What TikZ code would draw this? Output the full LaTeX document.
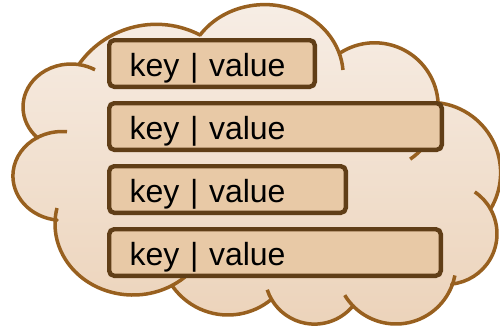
\documentclass[tikz,border=0pt]{standalone}
\usepackage{fontspec}
\setmainfont{Liberation Sans}
\usetikzlibrary{calc,positioning}
\definecolor{cloudline}{HTML}{98601F}
\definecolor{cloudtop}{HTML}{F7EEE6}
\definecolor{cloudbottom}{HTML}{ECD3BA}
\definecolor{entryfill}{HTML}{E8C9A6}
\definecolor{entryline}{HTML}{603E17}
% one puff of the cloud: centre x, centre y, x radius, y radius, start, end
\newcommand{\puff}[6]{-- ($(#1,#2)+(#5:#3 and #4)$) arc[start angle=#5, end angle=#6, x radius=#3, y radius=#4]}
\newcommand{\puffstub}[6]{\draw[cloud outline] ($(#1,#2)+(#5:#3 and #4)$) arc[start angle=#5, end angle=#6, x radius=#3, y radius=#4];}
\tikzset{
  cloud outline/.style={
    draw=cloudline,
    line width=3.5pt,
    line join=round,
  },
  cloud body/.style={
    cloud outline,
    top color=cloudtop,
    bottom color=cloudbottom,
  },
  entry/.style={
    rounded corners=5pt,
    draw=entryline,
    fill=entryfill,
    line width=4.4pt,
    minimum height=46.6pt,
    text height=25pt,
    text depth=0pt,
    inner xsep=20.4pt,
    inner ysep=4pt,
    align=left,
    text width=#1,
    font=\fontsize{32}{38}\selectfont,
  },
}

\begin{document}
\begin{tikzpicture}[x=1pt, y=-1pt]
  \useasboundingbox (0,0) rectangle (500,327);

  \draw[cloud body] (79.9,63)
    \puff{156.3}{119.1}{94.8}{94.8}{216.3}{297.5}
    \puff{264.6}{75.4}{78.6}{70.8}{214.8}{340.5}
    \puff{374.6}{106.4}{63.6}{63.6}{237}{357}
    \puff{430.1}{172.8}{70.5}{70.5}{276.7}{391.1}
    \puff{446.5}{233.8}{50.5}{50.5}{331}{444}
    \puff{396}{264}{60}{60}{21.4}{135.6}
    \puff{314.5}{274.4}{49.7}{49.7}{41}{149}
    \puff{228}{247}{68}{68}{50.3}{144}
    \puff{133}{224}{78}{71}{60}{183}
    \puff{62.2}{175.9}{49.3}{44.4}{96}{240}
    \puff{71}{107}{48}{43}{134}{280}
    -- cycle;

  % inner ends of the puffs
  \puffstub{264.6}{75.4}{78.6}{70.8}{340.5}{355.6}
  \puffstub{374.6}{106.4}{63.6}{63.6}{357}{416}
  \puffstub{446.5}{233.8}{50.5}{50.5}{304}{331}
  \puffstub{396}{264}{60}{60}{11}{21.4}
  \puffstub{396}{264}{60}{60}{135.6}{148.7}
  \puffstub{314.5}{274.4}{49.7}{49.7}{149}{162}
  \puffstub{133}{224}{78}{71}{45}{60}
  \puffstub{133}{224}{78}{71}{183}{193}
  \puffstub{62.2}{175.9}{49.3}{44.4}{240}{275.6}
  \puffstub{71}{107}{48}{43}{280}{300}

  \node[entry=164.8pt] (row1) at (212,63.5) {key | value};
  \node[entry=291.8pt, below=12pt of row1.south west, anchor=north west] (row2) {key | value};
  \node[entry=195.8pt, below=12pt of row2.south west, anchor=north west] (row3) {key | value};
  \node[entry=290.8pt, below=12pt of row3.south west, anchor=north west] (row4) {key | value};
\end{tikzpicture}
\end{document}
